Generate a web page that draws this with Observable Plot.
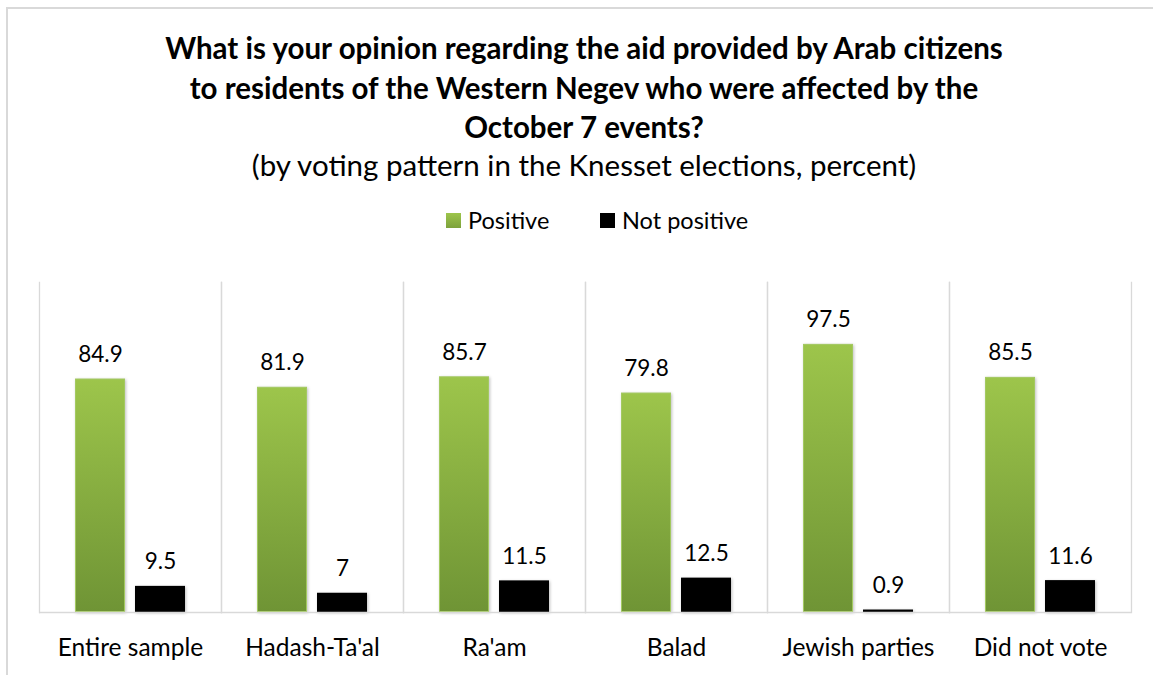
<!DOCTYPE html>
<html><head><meta charset="utf-8">
<script src="https://cdn.jsdelivr.net/npm/d3@7"></script>
<script src="https://cdn.jsdelivr.net/npm/@observablehq/plot@0.6"></script>
<style>
html,body{margin:0;padding:0;background:#fff;}
#wrap{position:relative;width:1153px;height:675px;overflow:hidden;font-family:Lato,"Noto Sans",sans-serif;color:#000;}
#border{position:absolute;left:6px;top:7px;width:1200px;height:700px;border-left:2px solid #d9d9d9;border-top:2px solid #d9d9d9;}
.t{position:absolute;left:0;width:1168px;text-align:center;white-space:nowrap;line-height:33px;}
.b{font-weight:bold;font-size:29.5px;}
.s{font-size:29.5px;}
.leg{position:absolute;top:206px;height:28px;display:flex;align-items:center;font-size:23.5px;}
.sw{width:15px;height:15px;margin-right:7px;}
#chart{position:absolute;left:0;top:250px;}
</style></head>
<body><div id="wrap"><div id="border"></div><div id="head"></div><div id="chart"></div></div>
<script>
const titleLines = [
  "What is your opinion regarding the aid provided by Arab citizens",
  "to residents of the Western Negev who were affected by the",
  "October 7 events?"
];
const subtitle = "(by voting pattern in the Knesset elections, percent)";
const categories = ["Entire sample","Hadash-Ta'al","Ra'am","Balad","Jewish parties","Did not vote"];
const series = ["Positive","Not positive"];
const positive = [84.9, 81.9, 85.7, 79.8, 97.5, 85.5];
const notPositive = [9.5, 7, 11.5, 12.5, 0.9, 11.6];

const head = document.getElementById("head");
titleLines.forEach((l,i)=>{
  const d=document.createElement("div");d.className="t b";d.style.top=(31+i*39.5)+"px";d.textContent=l;head.appendChild(d);
});
const sd=document.createElement("div");sd.className="t s";sd.style.top="148px";sd.textContent=subtitle;head.appendChild(sd);
const legLeft=[446,600];
const legFill=["linear-gradient(#9dc54b,#7da23c)","#000"];
series.forEach((s,i)=>{
  const it=document.createElement("div");it.className="leg";it.style.left=legLeft[i]+"px";
  const sw=document.createElement("div");sw.className="sw";sw.style.background=legFill[i];
  const tx=document.createElement("span");tx.textContent=s;
  it.appendChild(sw);it.appendChild(tx);head.appendChild(it);
});

const data = [];
categories.forEach((c,i)=>{
  data.push({cat:c, series:series[0], value:positive[i]});
  data.push({cat:c, series:series[1], value:notPositive[i]});
});

const svg = Plot.plot({
  width:1153, height:425,
  marginTop:32, marginBottom:63, marginLeft:37, marginRight:21,
  style:{fontFamily:"Lato, 'Noto Sans', sans-serif", fontSize:"24.5px", color:"#000", background:"transparent"},
  fx:{domain:categories, padding:0, axis:"bottom", label:null, tickSize:0, tickPadding:26},
  x:{domain:series, axis:null, paddingInner:0.175, paddingOuter:0.593},
  y:{domain:[0,120], axis:null},
  marks:[
    Plot.frame({anchor:"left", stroke:"#d9d9d9", strokeWidth:1.3}),
    Plot.frame({anchor:"right", stroke:"#d9d9d9", strokeWidth:1.3}),
    Plot.barY(data.filter(d=>d.series===series[0]), {fx:"cat", x:"series", y:"value", fill:"url(#greenGrad)", stroke:"#a3c961", strokeWidth:1, inset:0.5}),
    Plot.barY(data.filter(d=>d.series===series[1]), {fx:"cat", x:"series", y:"value", fill:"#000"}),
    Plot.ruleY([0], {stroke:"#d9d9d9", strokeWidth:1.5}),
    Plot.text(data, {fx:"cat", x:"series", y:"value", text:d=>String(d.value), lineAnchor:"bottom", dy:-17, fontSize:22.5, fill:"#000"})
  ]
});
const defs = d3.select(svg).insert("defs",":first-child");
const g = defs.append("linearGradient").attr("id","greenGrad").attr("x1",0).attr("y1",0).attr("x2",0).attr("y2",1);
g.append("stop").attr("offset","0%").attr("stop-color","#9dc54b");
g.append("stop").attr("offset","100%").attr("stop-color","#6f9435");
d3.select(svg).selectAll("rect").style("filter","drop-shadow(1px 1px 1.5px rgba(0,0,0,0.25))");
document.getElementById("chart").appendChild(svg);
</script></body></html>
